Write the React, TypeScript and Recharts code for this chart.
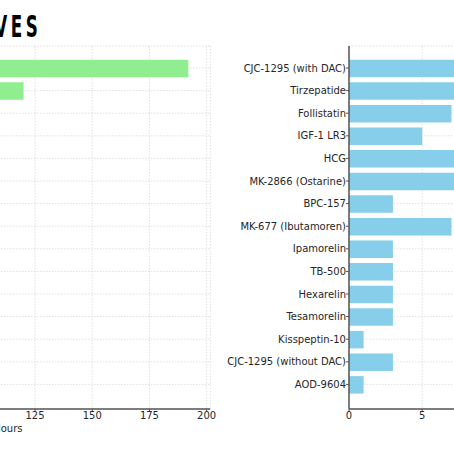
import { BarChart, Bar, XAxis, YAxis, CartesianGrid } from "recharts";

// peptide names, top to bottom
const peptides = [
  "CJC-1295 (with DAC)",
  "Tirzepatide",
  "Follistatin",
  "IGF-1 LR3",
  "HCG",
  "MK-2866 (Ostarine)",
  "BPC-157",
  "MK-677 (Ibutamoren)",
  "Ipamorelin",
  "TB-500",
  "Hexarelin",
  "Tesamorelin",
  "Kisspeptin-10",
  "CJC-1295 (without DAC)",
  "AOD-9604",
];

// left panel: half-life in hours (only the two longest are visible in the crop)
const halfLifeHours = [192, 120, 24, 20, 36, 24, 4, 24, 2, 72, 1, 0.5, 0.3, 0.5, 0.5];
// right panel: duration in days
const durationDays = [30, 14, 7, 5, 10, 10, 3, 7, 3, 3, 3, 3, 1, 3, 1];

const hourTicks = [0, 25, 50, 75, 100, 125, 150, 175, 200];
const dayTicks = [0, 5, 10, 15, 20, 25, 30];

const leftData = peptides.map((name, i) => ({ name, hours: halfLifeHours[i] }));
const rightData = peptides.map((name, i) => ({ name, days: durationDays[i] }));

const FONT = "DejaVu Sans, sans-serif";
const SPINE = "#555";
const TEXT = "#262626";
const PLOT_W = 461.3;
const Y_W = 150;

const tickStyle = { fontSize: 10, fill: TEXT, fontFamily: FONT };

// plain tick so long names are not wrapped
const CategoryTick = (props: any) => (
  <text
    x={props.x}
    y={props.y}
    dy="0.355em"
    textAnchor="end"
    fontSize={10}
    fill={TEXT}
    fontFamily={FONT}
  >
    {props.payload.value}
  </text>
);

function Panel({
  data,
  dataKey,
  color,
  domainMax,
  ticks,
  label,
  left,
}: {
  data: any[];
  dataKey: string;
  color: string;
  domainMax: number;
  ticks: number[];
  label: string;
  left: number;
}) {
  return (
    <div style={{ position: "absolute", left: left - Y_W, top: 0 }}>
      <BarChart
        layout="vertical"
        width={Y_W + PLOT_W + 10}
        height={454}
        data={data}
        margin={{ top: 46, right: 10, bottom: 15, left: 0 }}
        barSize={17.5}
      >
        <XAxis
          type="number"
          domain={[0, domainMax]}
          ticks={ticks}
          height={30}
          tick={tickStyle}
          tickSize={3}
          tickMargin={0}
          axisLine={{ stroke: SPINE, strokeWidth: 1.5 }}
          tickLine={{ stroke: SPINE }}
          label={{
            value: label,
            position: "insideBottom",
            offset: 7,
            style: { fontSize: 10, fill: TEXT, fontFamily: FONT },
          }}
        />
        <YAxis
          type="category"
          dataKey="name"
          width={Y_W}
          padding={{ top: 10.7, bottom: 13.3 }}
          tick={<CategoryTick />}
          tickSize={3}
          tickMargin={0}
          interval={0}
          axisLine={{ stroke: SPINE, strokeWidth: 1.5 }}
          tickLine={{ stroke: SPINE }}
        />
        <Bar dataKey={dataKey} fill={color} isAnimationActive={false} />
        <CartesianGrid
          stroke="#c8c8c8"
          strokeOpacity={0.7}
          strokeDasharray="1.5 1.5"
          strokeWidth={0.8}
        />
      </BarChart>
    </div>
  );
}

export default function App() {
  return (
    <div
      style={{
        position: "fixed",
        left: 0,
        top: 0,
        width: 454,
        height: 454,
        overflow: "hidden",
        background: "#fff",
      }}
    >
      <Panel
        data={leftData}
        dataKey="hours"
        color="#90EE90"
        domainMax={201.6}
        ticks={hourTicks}
        label="Half-Life in Hours"
        left={-251}
      />
      <Panel
        data={rightData}
        dataKey="days"
        color="#87CEEB"
        domainMax={31.5}
        ticks={dayTicks}
        label="Duration in Days"
        left={349.3}
      />
      <svg
        width={454}
        height={50}
        style={{ position: "absolute", left: 0, top: 0 }}
      >
        <text
          transform="translate(41.5,37.3) scale(0.6,1)"
          textAnchor="end"
          fontFamily="DejaVu Sans Condensed, DejaVu Sans"
          fontWeight={700}
          fontSize={31}
          letterSpacing={6}
          fill="#000"
        >
          PEPTIDE HALF-LIVES
        </text>
      </svg>
    </div>
  );
}
